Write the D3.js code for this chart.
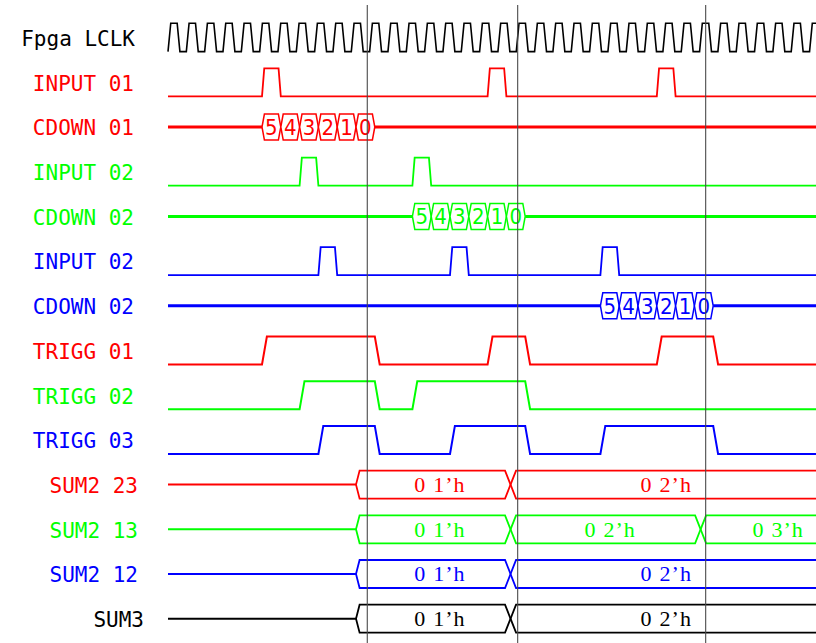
<!DOCTYPE html>
<html>
<head>
<meta charset="utf-8">
<script src="https://cdn.jsdelivr.net/npm/d3@7"></script>
<style>
  html, body { margin: 0; padding: 0; background: #fff; }
  svg { display: block; }
</style>
</head>
<body>
<svg id="chart" width="816" height="643"></svg>
<script>
// ---- signal list, top to bottom ----
const signalNames = [
  "Fpga LCLK", "INPUT 01", "CDOWN 01", "INPUT 02", "CDOWN 02",
  "INPUT 02", "CDOWN 02", "TRIGG 01", "TRIGG 02", "TRIGG 03",
  "SUM2 23", "SUM2 13", "SUM2 12", "SUM3"
];
const signalColors = [
  "#000000", "#ff0000", "#ff0000", "#00ff00", "#00ff00",
  "#0000ff", "#0000ff", "#ff0000", "#00ff00", "#0000ff",
  "#ff0000", "#00ff00", "#0000ff", "#000000"
];

// ---- timing, in clock cycles ----
const clockPeriod = 0.975;
const clockCycles = 36;

// start of each one-cycle input pulse
const input01Pulses = [5, 17, 26];
const input02aPulses = [7, 13];
const input02bPulses = [8, 15, 23];

// countdown buses
const countdownDigits = ["5", "4", "3", "2", "1", "0"];
const cdown01Start = 5;
const cdown02aStart = 13;
const cdown02bStart = 23;

// trigger windows [rise, fall]
const trigg01High = [[5, 11], [17, 19], [26, 29]];
const trigg02High = [[7, 11], [13, 19]];
const trigg03High = [[8, 11], [15, 19], [23, 29]];

// sum buses [from, to, value]
const sum23Segments = [[10, 18.22, "01’h"], [18.22, 34.3, "02’h"]];
const sum13Segments = [[10, 18.22, "01’h"], [18.22, 28.33, "02’h"], [28.33, 36.2, "03’h"]];
const sum12Segments = [[10, 18.22, "01’h"], [18.22, 34.3, "02’h"]];
const sum3Segments  = [[10, 18.22, "01’h"], [18.22, 34.3, "02’h"]];

// cursor lines
const markerTimes = [10.6, 18.6, 28.6];

// ---- layout ----
const W = 816, H = 643;
const tEnd = 37;
const x = d3.scaleLinear().domain([0, 1]).range([168, 186.8]);
const y = d3.scaleLinear().domain([0, signalNames.length - 1]).range([37.6, 618.7]);
const amp = 14;
// right edge of the name column for each row
const labelRight = [135, 134, 134, 134, 134, 134, 134, 134, 134, 134, 138, 138, 138, 144];

const svg = d3.select("#chart");
const lineGen = d3.line().x(d => x(d[0])).y(d => d[1]);

// labels
svg.append("g").selectAll("text")
  .data(signalNames)
  .join("text")
  .attr("x", (d, i) => labelRight[i])
  .attr("y", (d, i) => y(i) + 8.3)
  .attr("text-anchor", "end")
  .attr("font-family", "'DejaVu Sans Mono', monospace")
  .attr("font-size", 21)
  .attr("fill", (d, i) => signalColors[i])
  .text(d => d);

const waves = svg.append("g").attr("fill", "none").attr("stroke-linejoin", "miter");

// clock
(function drawClock(row) {
  const c = y(row), hi = c - amp - 0.4, lo = c + amp;
  const pts = [];
  for (let k = 0; k < clockCycles; k++) {
    const t0 = k * clockPeriod;
    pts.push([t0, lo], [t0 + 0.15 * clockPeriod, hi], [t0 + 0.5 * clockPeriod, hi], [t0 + 0.65 * clockPeriod, lo]);
  }
  waves.append("path").attr("d", lineGen(pts))
    .attr("stroke", signalColors[row]).attr("stroke-width", 1.6);
})(0);

// two-level signals
function levelWave(row, intervals, slope, width) {
  const c = y(row), hi = c - amp, lo = c + amp;
  const pts = [[0, lo]];
  intervals.forEach(([a, b]) => {
    pts.push([a, lo], [a + slope, hi], [b, hi], [b + slope, lo]);
  });
  pts.push([tEnd, lo]);
  waves.append("path").attr("d", lineGen(pts))
    .attr("stroke", signalColors[row]).attr("stroke-width", width);
}
const inSlope = 0.12;
const pulseWindows = starts => starts.map(t => [t, t + 1 - inSlope]);
levelWave(1, pulseWindows(input01Pulses), inSlope, 1.8);
levelWave(3, pulseWindows(input02aPulses), inSlope, 1.8);
levelWave(5, pulseWindows(input02bPulses), inSlope, 1.8);

const trSlope = 0.26;
levelWave(7, trigg01High, trSlope, 2);
levelWave(8, trigg02High, trSlope, 2);
levelWave(9, trigg03High, trSlope, 2);

// hexagon bus cell between times a and b
function hexPath(a, b, c, h, dl, dr) {
  const xa = x(a), xb = x(b);
  return `M${xa},${c} L${xa + dl},${c - h} L${xb - dr},${c - h} L${xb},${c} L${xb - dr},${c + h} L${xa + dl},${c + h} Z`;
}
// bus cell that is still open at the end of the window
function openCellPath(a, c, h, dl) {
  const xa = x(a), xe = x(tEnd);
  return `M${xe},${c - h} L${xa + dl},${c - h} L${xa},${c} L${xa + dl},${c + h} L${xe},${c + h}`;
}

// countdown rows
function countdown(row, start) {
  const c = y(row), color = signalColors[row];
  const n = countdownDigits.length;
  waves.append("path")
    .attr("d", lineGen([[0, c], [start, c]]))
    .attr("stroke", color).attr("stroke-width", 3);
  waves.append("path")
    .attr("d", lineGen([[start + n, c], [tEnd, c]]))
    .attr("stroke", color).attr("stroke-width", 3);
  const g = svg.append("g");
  g.selectAll("path")
    .data(countdownDigits)
    .join("path")
    .attr("d", (d, i) => hexPath(start + i, start + i + 1, c, 13, 2.4, 2.4))
    .attr("fill", "#fff").attr("stroke", color).attr("stroke-width", 1.5);
  g.selectAll("text")
    .data(countdownDigits)
    .join("text")
    .attr("x", (d, i) => x(start + i + 0.5))
    .attr("y", c + 7.8)
    .attr("text-anchor", "middle")
    .attr("font-family", "'Liberation Sans Narrow', 'DejaVu Sans Condensed', sans-serif")
    .attr("font-size", 22)
    .attr("fill", color)
    .text(d => d);
}
countdown(2, cdown01Start);
countdown(4, cdown02aStart);
countdown(6, cdown02bStart);

// sum buses; each value sits in the part of its cell right of a cursor
function sumBus(row, segments) {
  const c = y(row), color = signalColors[row];
  waves.append("path")
    .attr("d", lineGen([[0, c], [segments[0][0], c]]))
    .attr("stroke", color).attr("stroke-width", 2);
  const g = svg.append("g");
  segments.forEach(([a, b, label], i) => {
    const dl = i === 0 ? 3.6 : 5.5;
    const last = i === segments.length - 1;
    g.append("path")
      .attr("d", last ? openCellPath(a, c, 14, dl) : hexPath(a, b, c, 14, dl, 5.5))
      .attr("fill", "none").attr("stroke", color).attr("stroke-width", 1.8);
    const cursor = markerTimes.find(m => m > a && m < b);
    const from = cursor === undefined ? a : cursor;
    const t = g.append("text")
      .attr("x", (x(from) + x(b)) / 2 + 1)
      .attr("y", c + 7.4)
      .attr("text-anchor", "middle")
      .attr("font-family", "'Liberation Serif', 'Times New Roman', serif")
      .attr("font-size", 22)
      .attr("letter-spacing", 1)
      .attr("fill", color);
    t.append("tspan").text(label.slice(0, 1));
    t.append("tspan").attr("dx", 7).text(label.slice(1));
  });
}
sumBus(10, sum23Segments);
sumBus(11, sum13Segments);
sumBus(12, sum12Segments);
sumBus(13, sum3Segments);

// cursor lines
svg.append("g").selectAll("line")
  .data(markerTimes)
  .join("line")
  .attr("x1", d => x(d)).attr("x2", d => x(d))
  .attr("y1", 5).attr("y2", H)
  .attr("stroke", "#4a4a4a").attr("stroke-width", 1.1);
</script>
</body>
</html>
